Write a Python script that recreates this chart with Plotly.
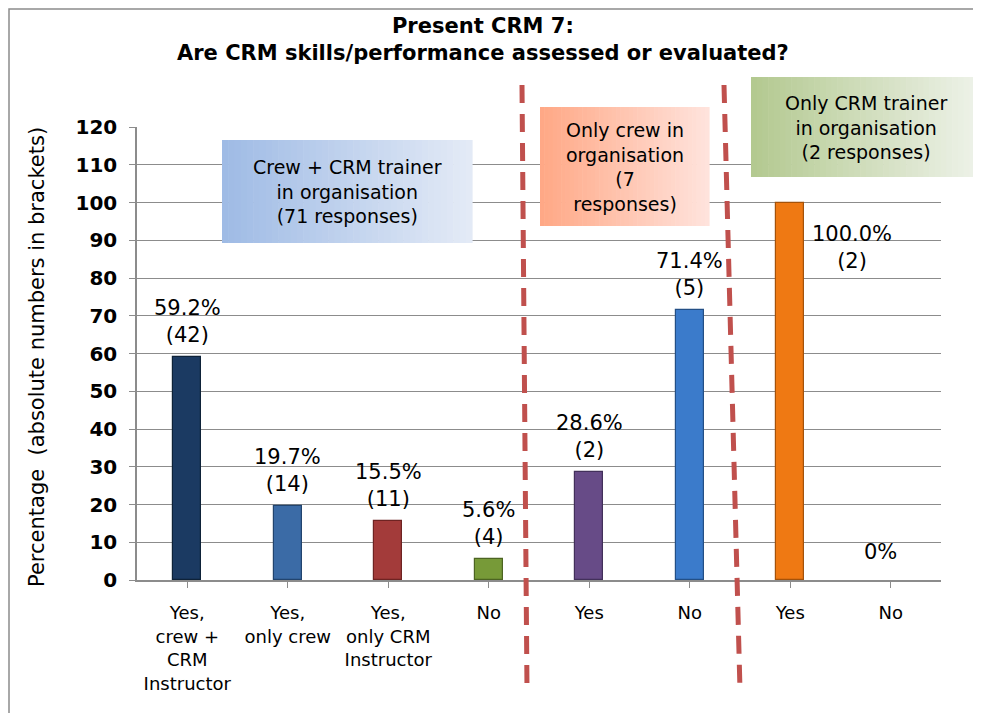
import plotly.graph_objects as go

# Data
categories = ["Yes,<br>crew +<br>CRM<br>Instructor", "Yes,<br>only crew", "Yes,<br>only CRM<br>Instructor", "No",
              "Yes", "No", "Yes", "No"]
percentages = [59.2, 19.7, 15.5, 5.6, 28.6, 71.4, 100.0, 0]
counts = [42, 14, 11, 4, 2, 5, 2, 0]
bar_colors = ["#1B3A62", "#3B6BA6", "#A33B3A", "#779A38", "#674B87", "#3B7BCB", "#EF7913", "#FFFFFF"]
edge_colors = ["#0E2238", "#22446E", "#6E2322", "#4C6422", "#42305A", "#234F86", "#A4520A", "#FFFFFF"]

group_boxes = [
    ("Crew + CRM trainer<br>in organisation<br>(71 responses)", (222, 472, 140, 243), ("#9FBBE5", "#E3EAF6")),
    ("Only crew in<br>organisation<br>(7<br>responses)", (540, 709, 107, 226), ("#FFA886", "#FFE3DC")),
    ("Only CRM trainer<br>in organisation<br>(2 responses)", (751, 981, 77, 177), ("#B3C990", "#EEF2E9")),
]

FONT = "DejaVu Sans, Verdana, sans-serif"
# plot area in reference pixels; the page body adds an 8px offset
OFF = 8
L, R, T, B = 137, 941, 127, 580
W, H = 981 - OFF, 713 - OFF


def px_x(p):
    return (p - L) / (R - L)


def px_y(p):
    return (B - p) / (B - T)


def mix(c1, c2, t):
    a = [int(c1[i:i + 2], 16) for i in (1, 3, 5)]
    b = [int(c2[i:i + 2], 16) for i in (1, 3, 5)]
    return "#%02X%02X%02X" % tuple(round(a[k] + (b[k] - a[k]) * t) for k in range(3))


x_idx = list(range(len(categories)))

fig = go.Figure()
fig.add_trace(go.Bar(
    x=x_idx,
    y=percentages,
    width=0.28,
    marker=dict(color=bar_colors, line=dict(color=edge_colors, width=1.2)),
    cliponaxis=False,
    hoverinfo="skip",
))

shapes = []
annotations = []

# outer chart border
shapes.append(dict(type="rect", xref="paper", yref="paper",
                   x0=px_x(9), x1=px_x(995), y0=px_y(725), y1=px_y(9),
                   line=dict(color="#8C8C8C", width=1.5), layer="below"))

# gradient group boxes
n_strips = 40
for text, (x0, x1, y0, y1), (c_left, c_right) in group_boxes:
    step = (x1 - x0) / n_strips
    for k in range(n_strips):
        shapes.append(dict(type="rect", xref="paper", yref="paper",
                           x0=px_x(x0 + k * step), x1=px_x(x0 + (k + 1) * step + 0.6),
                           y0=px_y(y1), y1=px_y(y0),
                           fillcolor=mix(c_left, c_right, k / (n_strips - 1)),
                           line=dict(width=0), layer="above"))
    annotations.append(dict(xref="paper", yref="paper",
                            x=px_x((x0 + x1) / 2), y=px_y((y0 + y1) / 2),
                            text=text, showarrow=False,
                            font=dict(family=FONT, size=19, color="#000000"),
                            xanchor="center", yanchor="middle", align="center"))

# dashed red separators
for xt, xb in [(522, 527), (724, 740)]:
    shapes.append(dict(type="line", xref="paper", yref="paper",
                       x0=px_x(xt), x1=px_x(xb), y0=px_y(85), y1=px_y(690),
                       line=dict(color="#C0504D", width=5, dash="18px,11px"), layer="above"))

# value labels
for i, (p, c) in enumerate(zip(percentages, counts)):
    if p == 0:
        annotations.append(dict(x=i, y=p, xref="x", yref="y", text="0%", showarrow=False,
                                xshift=-10, yshift=28,
                                font=dict(family=FONT, size=21, color="#000000")))
    elif p == 100:
        # placed beside the bar, clear of the box above
        annotations.append(dict(x=i, y=p, xref="x", yref="y",
                                text=f"{p:.1f}%<br>({c})", showarrow=False,
                                xshift=62, yshift=-45, align="center",
                                font=dict(family=FONT, size=21, color="#000000")))
    else:
        annotations.append(dict(x=i, y=p, xref="x", yref="y",
                                text=f"{p:.1f}%<br>({c})", showarrow=False,
                                yanchor="bottom", yshift=8, align="center",
                                font=dict(family=FONT, size=21, color="#000000")))

# title
annotations.append(dict(xref="paper", yref="paper", x=px_x(483), y=px_y(40),
                        text="<b>Present CRM 7:</b><br><b>Are CRM skills/performance assessed or evaluated?</b>",
                        showarrow=False, xanchor="center", yanchor="middle", align="center",
                        font=dict(family=FONT, size=21, color="#000000")))

# y-axis title
annotations.append(dict(xref="paper", yref="paper", x=px_x(37), y=px_y(357),
                        text="Percentage  (absolute numbers in brackets)", textangle=-90,
                        showarrow=False, xanchor="center", yanchor="middle",
                        font=dict(family=FONT, size=21, color="#000000")))

fig.update_layout(
    width=W, height=H,
    margin=dict(l=L - OFF, r=W - (R - OFF), t=T - OFF, b=H - (B - OFF), autoexpand=False),
    paper_bgcolor="#FFFFFF",
    plot_bgcolor="#FFFFFF",
    showlegend=False,
    shapes=shapes,
    annotations=annotations,
    bargap=0,
    xaxis=dict(
        tickmode="array", tickvals=x_idx, ticktext=categories,
        range=[-0.5, 7.5], showgrid=False, zeroline=False, automargin=False,
        showline=True, linecolor="#8C8C8C", linewidth=1.5,
        ticks="outside", ticklen=6, tickcolor="#8C8C8C", tickson="boundaries",
        ticklabelstandoff=10,
        tickfont=dict(family=FONT, size=18, color="#000000"),
        fixedrange=True,
    ),
    yaxis=dict(
        range=[0, 120], dtick=10, showgrid=True, gridcolor="#8C8C8C", gridwidth=1.2,
        zeroline=False, showline=True, linecolor="#8C8C8C", linewidth=1.5, automargin=False,
        ticks="outside", ticklen=6, tickcolor="#8C8C8C", ticklabelstandoff=8,
        tickfont=dict(family=FONT, size=20, color="#000000", weight="bold"),
        fixedrange=True,
    ),
)

fig.write_html("out.html")
